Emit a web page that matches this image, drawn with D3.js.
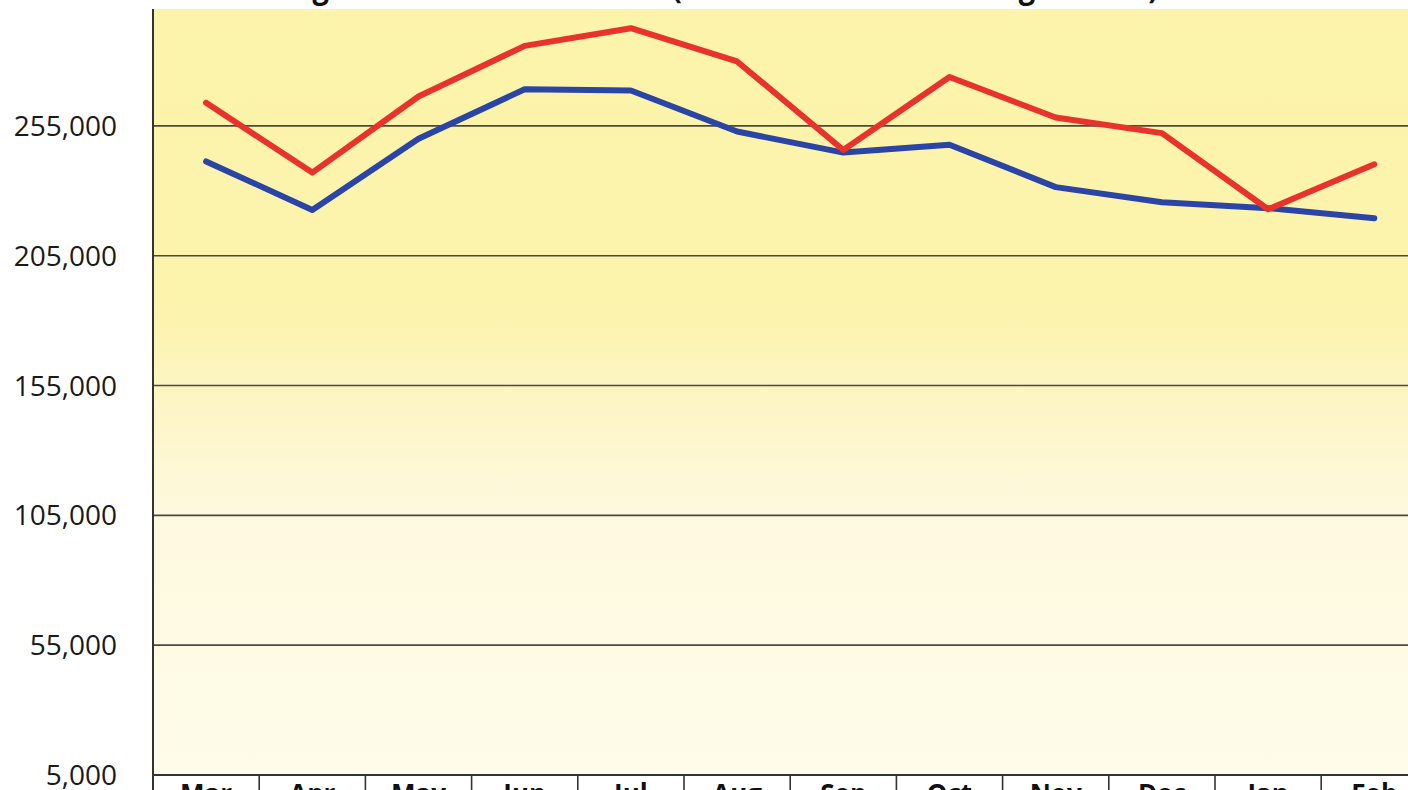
<!DOCTYPE html>
<html>
<head>
<meta charset="utf-8">
<script src="https://cdn.jsdelivr.net/npm/d3@7"></script>
<style>
  body { margin: 0; background: #fff; overflow: hidden; }
  svg { display: block; }
</style>
</head>
<body>
<script>
// data
var months = ['Mar', 'Apr', 'May', 'Jun', 'Jul', 'Aug', 'Sep', 'Oct', 'Nov', 'Dec', 'Jan', 'Feb'];
var redValues = [263900, 237000, 266300, 285800, 292600, 279800, 245700, 273800, 258200, 252200, 222900, 240200];
var blueValues = [241300, 222600, 250000, 269100, 268600, 252800, 244700, 247700, 231400, 225600, 223300, 219400];
var yTicks = [5000, 55000, 105000, 155000, 205000, 255000];

// ----------------------------------------------------------------------------
var width = 1408, height = 790;
var plotLeft = 153, plotTop = 9, plotBottom = 775;

var svg = d3.select('body').append('svg')
  .attr('width', width)
  .attr('height', height);

var x = d3.scaleBand()
  .domain(months)
  .range([plotLeft, plotLeft + 12 * 106.2]);

var y = d3.scaleLinear()
  .domain([5000, 300000])
  .range([plotBottom, plotTop]);

// background, yellow fading to cream
var grad = svg.append('defs').append('linearGradient')
  .attr('id', 'bg')
  .attr('x1', 0).attr('y1', 0).attr('x2', 0).attr('y2', 1);
grad.append('stop').attr('offset', '0%').attr('stop-color', '#fcf4aa');
grad.append('stop').attr('offset', '40%').attr('stop-color', '#fcf3ae');
grad.append('stop').attr('offset', '50%').attr('stop-color', '#fdf5c2');
grad.append('stop').attr('offset', '66%').attr('stop-color', '#fef9df');
grad.append('stop').attr('offset', '100%').attr('stop-color', '#fefcea');

svg.append('rect')
  .attr('x', plotLeft)
  .attr('y', plotTop)
  .attr('width', width - plotLeft)
  .attr('height', plotBottom - plotTop)
  .style('fill', 'url(#bg)');

// title (cropped at the top of the picture)
svg.append('text')
  .attr('x', 228)
  .attr('y', -2)
  .attr('textLength', 930)
  .attr('lengthAdjust', 'spacingAndGlyphs')
  .style('font-family', 'Open Sans, sans-serif')
  .style('font-weight', 'bold')
  .style('font-size', '32px')
  .style('fill', '#111')
  .text('Average Attendance Numbers (Month on Month Average Totals)');

// gridlines
svg.selectAll('line.grid')
  .data(yTicks)
  .enter()
  .append('line')
  .attr('class', 'grid')
  .attr('x1', plotLeft)
  .attr('x2', width)
  .attr('y1', function (d) { return y(d); })
  .attr('y2', function (d) { return y(d); })
  .style('stroke', function (d) { return d === 5000 ? '#333' : '#4a4a44'; })
  .style('stroke-width', function (d) { return d === 5000 ? 2 : 1.6; });

// y axis line
svg.append('line')
  .attr('x1', plotLeft).attr('x2', plotLeft)
  .attr('y1', plotTop).attr('y2', height)
  .style('stroke', '#333')
  .style('stroke-width', 2);

// y tick labels
svg.selectAll('text.ytick')
  .data(yTicks)
  .enter()
  .append('text')
  .attr('class', 'ytick')
  .attr('x', 117)
  .attr('y', function (d) { return y(d) + 10; })
  .attr('text-anchor', 'end')
  .style('font-family', 'Open Sans, sans-serif')
  .style('font-size', '28px')
  .style('fill', '#1a1a1a')
  .text(function (d) { return d3.format(',')(d); });

// category separators
svg.selectAll('line.sep')
  .data(months.slice(1))
  .enter()
  .append('line')
  .attr('class', 'sep')
  .attr('x1', function (d) { return x(d); })
  .attr('x2', function (d) { return x(d); })
  .attr('y1', plotBottom)
  .attr('y2', height)
  .style('stroke', '#333')
  .style('stroke-width', 1.6);

// month labels (cut off at the bottom)
svg.selectAll('text.month')
  .data(months)
  .enter()
  .append('text')
  .attr('class', 'month')
  .attr('x', function (d) { return x(d) + x.bandwidth() / 2; })
  .attr('y', 803)
  .attr('text-anchor', 'middle')
  .style('font-family', 'Open Sans, sans-serif')
  .style('font-weight', 'bold')
  .style('font-size', '26px')
  .style('fill', '#111')
  .text(function (d) { return d; });

// lines
var line = d3.line()
  .x(function (d, i) { return x(months[i]) + x.bandwidth() / 2; })
  .y(function (d) { return y(d); });

svg.append('path')
  .datum(blueValues)
  .attr('d', line)
  .style('fill', 'none')
  .style('stroke', '#2b45a6')
  .style('stroke-width', 6)
  .style('stroke-linecap', 'round')
  .style('stroke-linejoin', 'round');

svg.append('path')
  .datum(redValues)
  .attr('d', line)
  .style('fill', 'none')
  .style('stroke', '#e8332c')
  .style('stroke-width', 6)
  .style('stroke-linecap', 'round')
  .style('stroke-linejoin', 'round');
</script>
</body>
</html>
